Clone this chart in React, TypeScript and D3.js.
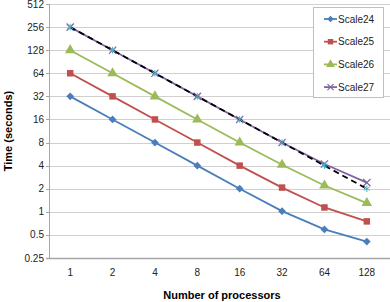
import { useEffect, useRef } from 'react';
import * as d3 from 'd3';

const processors = ['1', '2', '4', '8', '16', '32', '64', '128'];
const yTicks = [0.25, 0.5, 1, 2, 4, 8, 16, 32, 64, 128, 256, 512];

const seriesNames = ['Scale24', 'Scale25', 'Scale26', 'Scale27'];
const scale24 = [32, 16, 8, 4, 2, 1.02, 0.59, 0.41];
const scale25 = [64, 32, 16, 8, 4, 2.07, 1.14, 0.75];
const scale26 = [128, 64, 32, 16, 8, 4.1, 2.2, 1.3];
const scale27 = [256, 128, 64, 32, 16, 8, 4.2, 2.4];
const ideal = [256, 128, 64, 32, 16, 8, 4, 2];

const colors = ['#4A7EBB', '#C0504D', '#9BBB59', '#8064A2'];
const idealMarker = '#4BACC6';

export default function App() {
  const svgRef = useRef<SVGSVGElement | null>(null);

  useEffect(() => {
    if (!svgRef.current) return;
    const width = 390;
    const height = 302;
    const svg = d3.select(svgRef.current);
    svg.selectAll('*').remove();

    const font = '"Liberation Sans", Arial, sans-serif';
    const left = 49;
    const right = 388;
    const top = 4;
    const bottom = 258;

    const x = d3.scalePoint<string>().domain(processors).range([left, right]).padding(0.5);
    const y = d3.scaleLog().base(2).domain([0.25, 512]).range([bottom, top]);

    svg.append('rect').attr('width', width).attr('height', height).attr('fill', '#fff');

    // gridlines
    svg
      .append('g')
      .selectAll('line')
      .data(yTicks.slice(1))
      .join('line')
      .attr('x1', left)
      .attr('x2', right + 2)
      .attr('y1', (d) => Math.round(y(d)) + 0.5)
      .attr('y2', (d) => Math.round(y(d)) + 0.5)
      .attr('stroke', '#D0D0D0')
      .attr('stroke-width', 1);

    // axes lines
    svg
      .append('line')
      .attr('x1', left + 0.5)
      .attr('x2', left + 0.5)
      .attr('y1', top)
      .attr('y2', bottom)
      .attr('stroke', '#A6A6A6');
    svg
      .append('line')
      .attr('x1', left - 3)
      .attr('x2', right + 2)
      .attr('y1', bottom + 0.5)
      .attr('y2', bottom + 0.5)
      .attr('stroke', '#A6A6A6')
      .attr('stroke-width', 1.5);

    // y tick marks and labels
    const yAxis = svg.append('g');
    yAxis
      .selectAll('line')
      .data(yTicks)
      .join('line')
      .attr('x1', left - 3)
      .attr('x2', left)
      .attr('y1', (d) => Math.round(y(d)) + 0.5)
      .attr('y2', (d) => Math.round(y(d)) + 0.5)
      .attr('stroke', '#A6A6A6');
    yAxis
      .selectAll('text')
      .data(yTicks)
      .join('text')
      .attr('x', left - 5)
      .attr('y', (d) => y(d) + 3.5)
      .attr('text-anchor', 'end')
      .attr('font-family', font)
      .attr('font-size', 10)
      .attr('fill', '#222')
      .text((d) => String(d));

    svg
      .append('g')
      .selectAll('text')
      .data(processors)
      .join('text')
      .attr('x', (d) => x(d) ?? 0)
      .attr('y', 276)
      .attr('text-anchor', 'middle')
      .attr('font-family', font)
      .attr('font-size', 10)
      .attr('fill', '#222')
      .text((d) => d);

    svg
      .append('text')
      .attr('x', 222)
      .attr('y', 299)
      .attr('text-anchor', 'middle')
      .attr('font-family', font)
      .attr('font-size', 11)
      .attr('font-weight', 'bold')
      .attr('fill', '#000')
      .text('Number of processors');

    svg
      .append('text')
      .attr('transform', `translate(12,${131}) rotate(-90)`)
      .attr('text-anchor', 'middle')
      .attr('font-family', font)
      .attr('font-size', 11)
      .attr('font-weight', 'bold')
      .attr('fill', '#000')
      .text('Time (seconds)');

    const line = d3
      .line<number>()
      .x((_, i) => x(processors[i]) ?? 0)
      .y((d) => y(d));

    const allSeries = [scale24, scale25, scale26, scale27];
    const symbolTypes = [d3.symbolSquare, d3.symbolSquare, d3.symbolTriangle, d3.symbolTimes];
    const symbolSizes = [30, 42, 48, 36];

    const drawMarker = (
      g: d3.Selection<SVGGElement, unknown, null, undefined>,
      i: number,
      cx: number,
      cy: number,
      k = 1,
    ) => {
      const path = d3.symbol().type(symbolTypes[i]).size(symbolSizes[i] * k)();
      const rot = i === 0 ? ' rotate(45)' : '';
      const m = g.append('path').attr('d', path).attr('transform', `translate(${cx},${cy})${rot}`);
      if (i === 3) {
        m.attr('fill', 'none').attr('stroke', colors[i]).attr('stroke-width', 1.2);
      } else {
        m.attr('fill', colors[i]);
      }
    };

    allSeries.forEach((vals, i) => {
      const g = svg.append('g');
      g.append('path')
        .datum(vals)
        .attr('d', line)
        .attr('fill', 'none')
        .attr('stroke', colors[i])
        .attr('stroke-width', 1.8);
      vals.forEach((v, j) => drawMarker(g, i, x(processors[j]) ?? 0, y(v)));
    });

    // ideal scaling
    const gi = svg.append('g');
    gi.append('path')
      .datum(ideal)
      .attr('d', line)
      .attr('fill', 'none')
      .attr('stroke', '#000')
      .attr('stroke-width', 1.8)
      .attr('stroke-dasharray', '6 4');
    ideal.forEach((v, j) => {
      gi.append('path')
        .attr('d', d3.symbol().type(d3.symbolAsterisk).size(30)())
        .attr('transform', `translate(${x(processors[j]) ?? 0},${y(v)})`)
        .attr('fill', 'none')
        .attr('stroke', idealMarker)
        .attr('stroke-width', 1);
    });

    // legend
    const lg = svg.append('g');
    lg.append('rect')
      .attr('x', 313.5)
      .attr('y', 7.5)
      .attr('width', 70)
      .attr('height', 90)
      .attr('fill', '#fff')
      .attr('stroke', '#BFBFBF');
    seriesNames.forEach((name, i) => {
      const cy = 19 + i * 22.7;
      const row = lg.append('g');
      row
        .append('line')
        .attr('x1', 324)
        .attr('x2', 337)
        .attr('y1', cy)
        .attr('y2', cy)
        .attr('stroke', colors[i])
        .attr('stroke-width', 1.8);
      drawMarker(row, i, 330.5, cy, 0.7);
      row
        .append('text')
        .attr('x', 338)
        .attr('y', cy + 3.5)
        .attr('font-family', font)
        .attr('font-size', 10)
        .attr('fill', '#222')
        .text(name);
    });
  }, []);

  return (
    <svg
      ref={svgRef}
      width={390}
      height={302}
      style={{ position: 'absolute', left: 0, top: 0, display: 'block' }}
    />
  );
}
